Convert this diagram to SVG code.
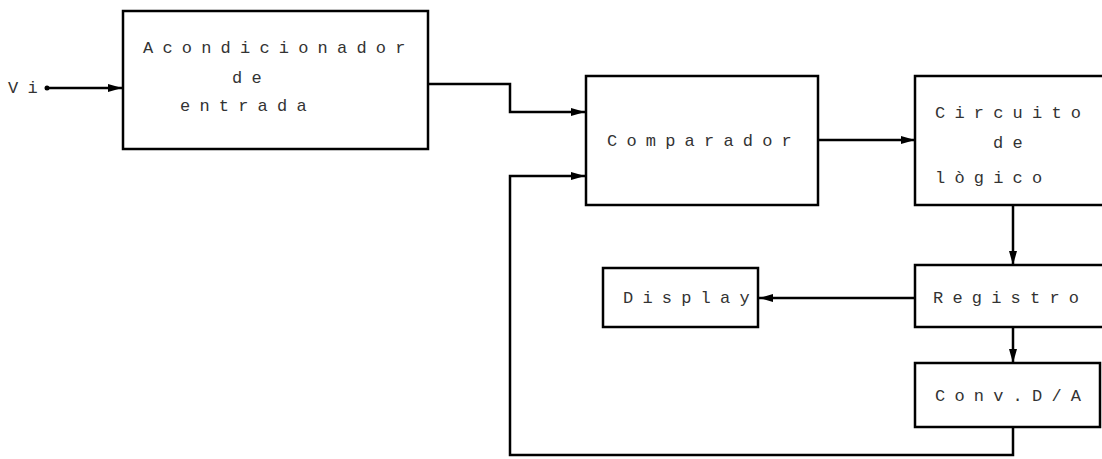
<svg xmlns="http://www.w3.org/2000/svg" width="1102" height="459" viewBox="0 0 1102 459">
<style>
.box{fill:#fff;stroke:#000;stroke-width:2.5}
.ln{fill:none;stroke:#000;stroke-width:2.5}
.t{font-family:"Liberation Mono","DejaVu Sans Mono",monospace;font-size:17px;letter-spacing:9.2px;fill:#333}
</style>
<defs>
<marker id="ar" viewBox="0 0 14 8" refX="14" refY="4" markerWidth="14" markerHeight="8" markerUnits="userSpaceOnUse" orient="auto">
<path d="M0,0 L14,4 L0,8 Z" fill="#000"/>
</marker>
</defs>
<rect width="1102" height="459" fill="#fff"/>
<g id="connectors">
<circle cx="47" cy="88" r="2.5" fill="#000"/>
<path class="ln" d="M47,88 H122" marker-end="url(#ar)"/>
<path class="ln" d="M428,84 H510 V112 H585" marker-end="url(#ar)"/>
<path class="ln" d="M818,140 H915" marker-end="url(#ar)"/>
<path class="ln" d="M1013,205 V265" marker-end="url(#ar)"/>
<path class="ln" d="M915,298 H759" marker-end="url(#ar)"/>
<path class="ln" d="M1013,327 V363" marker-end="url(#ar)"/>
<path class="ln" d="M1013,427 V455 H510 V176 H585" marker-end="url(#ar)"/>
</g>
<g id="vi"><text class="t" x="8" y="93">Vi</text></g>
<g id="acondicionador">
<rect class="box" x="123" y="11" width="305" height="138"/>
<text class="t" x="143" y="53">Acondicionador</text>
<text class="t" x="232" y="83">de</text>
<text class="t" x="180" y="111">entrada</text>
</g>
<g id="comparador">
<rect class="box" x="586" y="76" width="232" height="129"/>
<text class="t" x="607" y="146">Comparador</text>
</g>
<g id="circuito">
<rect class="box" x="915" y="76" width="190" height="129"/>
<text class="t" x="935" y="118">Circuito</text>
<text class="t" x="993" y="148">de</text>
<text class="t" x="935" y="183">lògico</text>
</g>
<g id="registro">
<rect class="box" x="915" y="265" width="190" height="62"/>
<text class="t" x="933" y="303">Registro</text>
</g>
<g id="display">
<rect class="box" x="603" y="268" width="155" height="59"/>
<text class="t" x="623" y="303">Display</text>
</g>
<g id="conv">
<rect class="box" x="915" y="363" width="185" height="64"/>
<text class="t" x="935" y="401">Conv.D/A</text>
</g>
</svg>
